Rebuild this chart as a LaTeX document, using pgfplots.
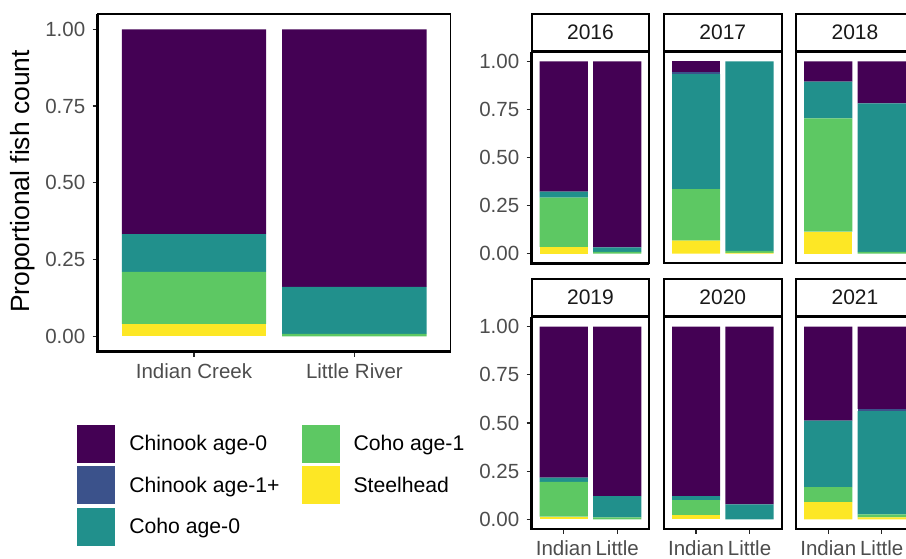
\documentclass[border=0pt]{standalone}
\usepackage{fontspec}
\setmainfont{Liberation Sans}
\usepackage{pgfplots}
\usepackage{pgfplotstable}
\pgfplotsset{compat=1.18}

% viridis, five levels
\definecolor{chinzero}{HTML}{440154}
\definecolor{chinone}{HTML}{3B528B}
\definecolor{cohozero}{HTML}{21908C}
\definecolor{cohoone}{HTML}{5DC863}
\definecolor{steel}{HTML}{FDE725}
\definecolor{tickgray}{HTML}{4D4D4D}

% proportions by site: 1 = Indian Creek, 2 = Little River
\pgfplotstableread{
x steel cohoone cohozero chinone chinzero
1 0.041 0.169 0.123 0.000 0.667
2 0.000 0.008 0.153 0.000 0.839
}\tabAll
\pgfplotstableread{
x steel cohoone cohozero chinone chinzero
1 0.035 0.257 0.031 0.000 0.677
2 0.000 0.010 0.023 0.000 0.967
}\tabA
\pgfplotstableread{
x steel cohoone cohozero chinone chinzero
1 0.068 0.268 0.598 0.008 0.058
2 0.004 0.010 0.986 0.000 0.000
}\tabB
\pgfplotstableread{
x steel cohoone cohozero chinone chinzero
1 0.115 0.588 0.191 0.000 0.106
2 0.000 0.010 0.771 0.000 0.219
}\tabC
\pgfplotstableread{
x steel cohoone cohozero chinone chinzero
1 0.014 0.181 0.021 0.000 0.784
2 0.000 0.010 0.110 0.000 0.880
}\tabD
\pgfplotstableread{
x steel cohoone cohozero chinone chinzero
1 0.021 0.077 0.022 0.000 0.880
2 0.000 0.000 0.078 0.000 0.922
}\tabE
\pgfplotstableread{
x steel cohoone cohozero chinone chinzero
1 0.089 0.078 0.345 0.000 0.488
2 0.010 0.016 0.535 0.012 0.427
}\tabF

\pgfplotsset{
  fishbars/.style={
    scale only axis, ybar stacked, bar width=0.9,
    xmin=0.4, xmax=2.6, ymin=-0.05, ymax=1.05,
    xtick={1,2}, ytick={0,0.25,0.5,0.75,1},
    yticklabels={0.00,0.25,0.50,0.75,1.00},
    tick align=outside, xtick pos=bottom, ytick pos=left,
    major tick length=5pt,
    tick style={line width=1.3pt, black!85},
    ticklabel style={font=\fontsize{20.5}{24}\selectfont, text=tickgray},
    xticklabel style={yshift=-3pt},
    yticklabel style={xshift=-4pt},
    clip=false,
  },
  facet/.style={
    fishbars, anchor=south west, width=117.6pt,
    xticklabels={Indian,Little},
    axis line style={line width=2pt, black},
    title style={at={(0.5,1)}, anchor=south, yshift=-6pt, draw=black,
      line width=2pt, fill=white, minimum width=117.6pt,
      minimum height=37pt, inner sep=0pt,
      font=\fontsize{21}{25}\selectfont, text=black!90},
  },
  nox/.style={xtick=\empty},
  noy/.style={ytick=\empty},
}

\newcommand{\fishstack}[1]{%
  \addplot[fill=steel, draw=none, forget plot] table[x=x, y=steel]{#1};
  \addplot[fill=cohoone, draw=none, forget plot] table[x=x, y=cohoone]{#1};
  \addplot[fill=cohozero, draw=none, forget plot] table[x=x, y=cohozero]{#1};
  \addplot[fill=chinone, draw=none, forget plot] table[x=x, y=chinone]{#1};
  \addplot[fill=chinzero, draw=none, forget plot] table[x=x, y=chinzero]{#1};
}
\newcommand{\leftbottom}[1]{%
  \draw[line width=#1, black] (rel axis cs:0,1) -- (rel axis cs:0,0) -- (rel axis cs:1,0);
}

\begin{document}
\begin{tikzpicture}[x=1pt, y=1pt]
\useasboundingbox (0,0) rectangle (906,559);
\begin{scope}
\clip (0,0) rectangle (906,559);

% pooled over all years
\begin{axis}[fishbars, at={(97.7pt,207.3pt)}, anchor=south west,
  width=353pt, height=337.7pt,
  xticklabels={Indian Creek,Little River},
  axis line style={line width=1.1pt, black},
  ylabel={Proportional fish count},
  ylabel style={at={(-0.2116,0.504)}, anchor=center,
    font=\fontsize{26.4}{30}\selectfont, text=black},
  legend columns=2, legend cell align=left,
  legend image code/.code={\fill[#1] (0pt,-19pt) rectangle (38pt,19pt);},
  legend style={at={(-0.0578,-0.217)}, anchor=north west, draw=none,
    fill=none, inner sep=0pt, outer sep=0pt, row sep=3.5pt,
    font=\fontsize{21.2}{25}\selectfont, nodes={inner sep=0pt},
    /tikz/every odd column/.append style={column sep=14pt},
    /tikz/every even column/.append style={column sep=22pt}},
]
\fishstack{\tabAll}
\leftbottom{2.6pt}
\addlegendimage{fill=chinzero, draw=none}
\addlegendentry{Chinook age-0}
\addlegendimage{fill=cohoone, draw=none}
\addlegendentry{Coho age-1}
\addlegendimage{fill=chinone, draw=none}
\addlegendentry{Chinook age-1+}
\addlegendimage{fill=steel, draw=none}
\addlegendentry{Steelhead}
\addlegendimage{fill=cohozero, draw=none}
\addlegendentry{Coho age-0}
\end{axis}

% one panel per year
\begin{axis}[facet, nox, at={(531.7pt,295.7pt)}, height=211.6pt, title={2016}]
\fishstack{\tabA}
\leftbottom{2.6pt}
\end{axis}
\begin{axis}[facet, nox, noy, at={(664.0pt,295.7pt)}, height=211.6pt, title={2017}]
\fishstack{\tabB}
\end{axis}
\begin{axis}[facet, nox, noy, at={(796.2pt,295.7pt)}, height=211.6pt, title={2018}]
\fishstack{\tabC}
\end{axis}
\begin{axis}[facet, at={(531.7pt,30pt)}, height=212pt, title={2019}]
\fishstack{\tabD}
\leftbottom{2.6pt}
\end{axis}
\begin{axis}[facet, noy, at={(664.0pt,30pt)}, height=212pt, title={2020}]
\fishstack{\tabE}
\end{axis}
\begin{axis}[facet, noy, at={(796.2pt,30pt)}, height=212pt, title={2021}]
\fishstack{\tabF}
\end{axis}

\end{scope}
\end{tikzpicture}
\end{document}
